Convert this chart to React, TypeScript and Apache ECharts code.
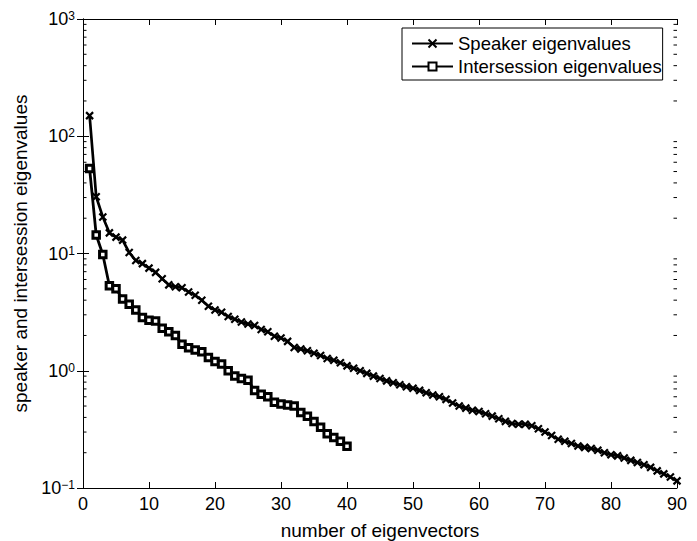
import React, { useEffect, useRef } from "react";
import * as echarts from "echarts";

const speakerValues = [
  150, 30.5, 20.5, 15, 13.8, 13, 10.2, 8.7, 8.2, 7.5,
  6.9, 6.1, 5.4, 5.2, 5.1, 4.7, 4.4, 4.0, 3.55, 3.3,
  3.15, 2.9, 2.75, 2.6, 2.5, 2.43, 2.25, 2.15, 1.97, 1.9,
  1.78, 1.58, 1.53, 1.48, 1.41, 1.35, 1.27, 1.23, 1.17, 1.1,
  1.05, 1.0, 0.95, 0.9, 0.86, 0.82, 0.79, 0.76, 0.73, 0.71,
  0.68, 0.65, 0.62, 0.6, 0.57, 0.53, 0.5, 0.48, 0.46, 0.45,
  0.43, 0.41, 0.39, 0.37, 0.355, 0.35, 0.35, 0.34, 0.32, 0.3,
  0.28, 0.26, 0.25, 0.24, 0.228, 0.222, 0.217, 0.21, 0.2, 0.192,
  0.188, 0.18, 0.172, 0.165, 0.158, 0.15, 0.14, 0.132, 0.124, 0.115,
];

const intersessionValues = [
  53, 14.4, 9.8, 5.3, 5.0, 4.1, 3.7, 3.3, 2.85, 2.7,
  2.65, 2.3, 2.15, 2.0, 1.68, 1.57, 1.5, 1.45, 1.3, 1.2,
  1.14, 1.0, 0.9, 0.86, 0.83, 0.68, 0.63, 0.6, 0.54, 0.52,
  0.51, 0.5, 0.44, 0.41, 0.37, 0.33, 0.29, 0.27, 0.25, 0.227,
];

const minorTickValues = [
  0.2, 0.3, 0.4, 0.5, 0.6, 0.7, 0.8, 0.9,
  2, 3, 4, 5, 6, 7, 8, 9,
  20, 30, 40, 50, 60, 70, 80, 90,
  200, 300, 400, 500, 600, 700, 800, 900,
];

const seriesNames = ["Speaker eigenvalues", "Intersession eigenvalues"];
const xTitle = "number of eigenvectors";
const yTitle = "speaker and intersession eigenvalues";

const FONT = "'Liberation Sans', Arial, Helvetica, sans-serif";

export default function App() {
  const ref = useRef<HTMLDivElement>(null);

  useEffect(() => {
    document.body.style.margin = "0";
    const chart = echarts.init(ref.current!, null, { renderer: "svg" });

    const toPairs = (arr: number[]) => arr.map((v, i) => [i + 1, v]);

    const yLabelFmt = (v: number) => {
      const e = Math.round(Math.log10(v));
      const s = e < 0 ? "\u2212" + Math.abs(e) : String(e);
      return `{b|10}{s|${s}}`;
    };

    const xAxisBase = {
      type: "value" as const,
      min: 0,
      max: 90,
      interval: 10,
      axisLine: { lineStyle: { color: "#000", width: 1 } },
      splitLine: { show: false },
      axisTick: { inside: true, length: 6, lineStyle: { color: "#000" } },
    };
    const yAxisBase = {
      type: "log" as const,
      logBase: 10,
      min: 0.1,
      max: 1000,
      splitNumber: 4,
      axisLine: { lineStyle: { color: "#000", width: 1 } },
      splitLine: { show: false },
      axisTick: { inside: true, length: 6, lineStyle: { color: "#000" } },
    };

    chart.setOption({
      animation: false,
      backgroundColor: "#fff",
      textStyle: { fontFamily: FONT, color: "#000" },
      grid: { left: 83, right: 20, top: 19, bottom: 53, outerBoundsMode: "none", containLabel: false },
      legend: {
        data: seriesNames,
        orient: "vertical",
        left: 402,
        top: 28,
        padding: [6, 1, 4, 9],
        itemGap: 4,
        itemWidth: 41,
        itemHeight: 10,
        backgroundColor: "#fff",
        borderColor: "#000",
        borderWidth: 1,
        borderRadius: 0,
        textStyle: { fontSize: 18.5, color: "#000", fontFamily: FONT },
      },
      xAxis: [
        {
          ...xAxisBase,
          position: "bottom",
          name: xTitle,
          nameLocation: "middle",
          nameGap: 33,
          nameTextStyle: { fontSize: 19, color: "#000", fontFamily: FONT },
          axisLabel: { fontSize: 18, color: "#000", margin: 7, fontFamily: FONT },
        },
        {
          ...xAxisBase,
          position: "top",
          axisLabel: { show: false },
        },
      ],
      yAxis: [
        {
          ...yAxisBase,
          position: "left",
          name: yTitle,
          nameLocation: "middle",
          nameGap: 50,
          nameTextStyle: { fontSize: 19, color: "#000", fontFamily: FONT },
          axisLabel: {
            formatter: yLabelFmt,
            margin: 8,
            rich: {
              b: { fontSize: 18, fontFamily: FONT, color: "#000", lineHeight: 18, verticalAlign: "bottom", padding: [4, 0, 0, 0] },
              s: { fontSize: 12, fontFamily: FONT, color: "#000", lineHeight: 12, verticalAlign: "top" },
            },
          },
        },
        {
          ...yAxisBase,
          position: "right",
          axisLabel: { show: false },
        },
      ],
      series: [
        {
          type: "custom",
          name: "minorTicks",
          silent: true,
          xAxisIndex: 0,
          yAxisIndex: 0,
          data: minorTickValues.map((v) => [0, v]),
          renderItem: (params: any, api: any) => {
            const v = api.value(1);
            const l = api.coord([0, v]);
            const r = api.coord([90, v]);
            return {
              type: "group",
              children: [
                { type: "line", shape: { x1: l[0], y1: l[1], x2: l[0] + 3.5, y2: l[1] }, style: { stroke: "#000", lineWidth: 1 } },
                { type: "line", shape: { x1: r[0] - 3.5, y1: r[1], x2: r[0], y2: r[1] }, style: { stroke: "#000", lineWidth: 1 } },
              ],
            };
          },
        },
        {
          type: "line",
          name: seriesNames[0],
          data: toPairs(speakerValues),
          showSymbol: true,
          showAllSymbol: true,
          symbol: "path://M0,0L10,10M10,0L0,10",
          symbolSize: 7,
          lineStyle: { color: "#000", width: 2.7 },
          itemStyle: { color: "#000", borderColor: "#000", borderWidth: 2.2 },
          z: 3,
        },
        {
          type: "line",
          name: seriesNames[1],
          data: toPairs(intersessionValues),
          showSymbol: true,
          showAllSymbol: true,
          symbol: "rect",
          symbolSize: 6.5,
          lineStyle: { color: "#000", width: 2.8 },
          itemStyle: { color: "#fff", borderColor: "#000", borderWidth: 3 },
          z: 4,
        },
      ],
    });

    return () => chart.dispose();
  }, []);

  return <div ref={ref} style={{ width: 697, height: 541 }} />;
}
